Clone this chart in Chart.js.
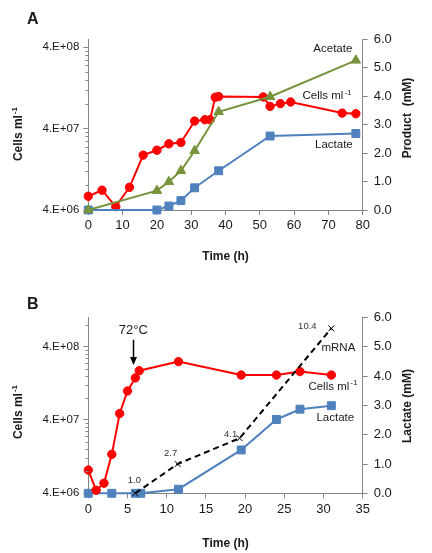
<!DOCTYPE html>
<html><head><meta charset="utf-8">
<script src="https://cdn.jsdelivr.net/npm/chart.js@4.4.1/dist/chart.umd.min.js"></script>
<style>
html,body{margin:0;padding:0;background:#fff;width:432px;height:553px;overflow:hidden;}
canvas{position:absolute;left:0;}
#cA{top:0;} #cB{top:276px;}
</style></head><body>
<canvas id="cA" width="432" height="276"></canvas>
<canvas id="cB" width="432" height="277"></canvas>
<script>
// ---------- Panel A data ----------
const aCellsTime = [0, 4, 8, 12, 16, 20, 23.5, 27, 31, 34, 35.5, 37, 38, 51, 53, 56, 59, 74, 78];
const aCells = [5.9e6, 7.0e6, 4.4e6, 7.6e6, 1.89e7, 2.17e7, 2.6e7, 2.7e7, 4.95e7, 5.15e7, 5.15e7, 9.7e7, 9.9e7, 9.8e7, 7.5e7, 8.1e7, 8.5e7, 6.2e7, 6.1e7];
const aAcetateTime = [0, 20, 23.5, 27, 31, 38, 53, 78];
const aAcetate = [0, 0.68, 0.99, 1.38, 2.08, 3.45, 3.98, 5.26];
const aLactateTime = [0, 20, 23.5, 27, 31, 38, 53, 78];
const aLactate = [0, 0, 0.14, 0.33, 0.78, 1.38, 2.6, 2.69];
// ---------- Panel B data ----------
const bCellsTime = [0, 1, 2, 3, 4, 5, 6, 6.5, 11.5, 19.5, 24, 27, 31];
const bCells = [8.3e6, 4.4e6, 5.5e6, 1.36e7, 4.9e7, 9.95e7, 1.5e8, 1.88e8, 2.5e8, 1.64e8, 1.64e8, 1.83e8, 1.64e8];
const bLactateTime = [0, 3, 6, 6.7, 11.5, 19.5, 24, 27, 31];
const bLactate = [0, 0, 0, 0, 0.14, 1.48, 2.52, 2.87, 2.99];
const bMrnaTime = [6, 11.4, 19.3, 31];
const bMrna = [0, 1.0, 1.88, 5.63];
const bMrnaLabels = ['1.0', '2.7', '4.1', '10.4'];
// ---------- Axis ticks ----------
const logTicks = [4e6, 4e7, 4e8];
const logTickLabels = ['4.E+06', '4.E+07', '4.E+08'];

const FONT = "'Liberation Sans', Arial, sans-serif";
const AXIS = '#868686';
const TXT = '#1a1a1a';
const RED = '#FF0000', GREEN = '#77933C', BLUE = '#4F81BD';
Chart.defaults.font.family = FONT;
Chart.defaults.color = TXT;

const pts = (xs, ys) => xs.map((x, i) => ({x: x, y: ys[i]}));

function drawSupText(ctx, x, y, main, sup, size, bold, rot) {
  ctx.save();
  ctx.translate(x, y);
  if (rot) ctx.rotate(rot);
  const w = bold ? 'bold ' : '';
  ctx.font = w + size + 'px ' + FONT;
  const w1 = ctx.measureText(main).width;
  const ss = Math.round(size * 0.66);
  ctx.font = w + ss + 'px ' + FONT;
  const w2 = ctx.measureText(sup).width;
  const total = w1 + 1 + w2;
  ctx.textBaseline = 'middle';
  ctx.textAlign = 'left';
  ctx.fillStyle = TXT;
  ctx.font = w + size + 'px ' + FONT;
  ctx.fillText(main, -total / 2, 0);
  ctx.font = w + ss + 'px ' + FONT;
  ctx.fillText(sup, -total / 2 + w1 + 1, -size * 0.33);
  ctx.restore();
}

function drawText(ctx, x, y, text, size, bold, rot) {
  ctx.save();
  ctx.translate(x, y);
  if (rot) ctx.rotate(rot);
  ctx.font = (bold ? 'bold ' : '') + size + 'px ' + FONT;
  ctx.fillStyle = TXT;
  ctx.textAlign = 'center';
  ctx.textBaseline = 'middle';
  ctx.fillText(text, 0, 0);
  ctx.restore();
}

const overlay = {
  id: 'overlay',
  afterDraw(chart) {
    const o = chart.options.plugins.overlay;
    const ctx = chart.ctx;
    const xs = chart.scales.x, yl = chart.scales.yL, yr = chart.scales.yR;
    ctx.save();
    // minor ticks on log axis
    ctx.strokeStyle = AXIS;
    ctx.lineWidth = 1;
    const ax = Math.round(yl.right) + 0.5;
    logTicks.forEach(d => {
      for (let k = 2; k <= 9; k++) {
        const v = d * k;
        if (v > yl.max) continue;
        const py = Math.round(yl.getPixelForValue(v)) + 0.5;
        ctx.beginPath();
        ctx.moveTo(ax - 3, py);
        ctx.lineTo(ax, py);
        ctx.stroke();
      }
    });
    ctx.restore();
    // panel letter
    drawText(ctx, o.letter.x, o.letter.y, o.letter.text, 16, true);
    // axis titles
    drawSupText(ctx, o.leftTitle.x, o.leftTitle.y, 'Cells ml', '-1', 12, true, -Math.PI / 2);
    drawText(ctx, o.rightTitle.x, o.rightTitle.y, o.rightTitle.text, 12, true, -Math.PI / 2);
    // series annotations
    o.notes.forEach(n => {
      const px = xs.getPixelForValue(n.t), py = yr.getPixelForValue(n.v);
      if (n.sup) drawSupText(ctx, px, py, n.text, n.sup, 11.5, false, 0);
      else drawText(ctx, px, py, n.text, n.size || 11.5, false, 0);
    });
    // arrow
    if (o.arrow) {
      const px = Math.round(xs.getPixelForValue(o.arrow.t)) + 0.5;
      const y1 = yr.getPixelForValue(o.arrow.v1), y2 = yr.getPixelForValue(o.arrow.v2);
      ctx.save();
      ctx.strokeStyle = '#000'; ctx.fillStyle = '#000'; ctx.lineWidth = 1.5;
      ctx.beginPath(); ctx.moveTo(px, y1); ctx.lineTo(px, y2 - 5); ctx.stroke();
      ctx.beginPath(); ctx.moveTo(px - 3.5, y2 - 8); ctx.lineTo(px + 3.5, y2 - 8); ctx.lineTo(px, y2); ctx.closePath(); ctx.fill();
      ctx.restore();
    }
    // mRNA value labels
    if (o.pointLabels) {
      const meta = chart.getDatasetMeta(o.pointLabels.dataset);
      meta.data.forEach((el, i) => {
        const off = o.pointLabels.offsets[i];
        ctx.save();
        ctx.font = '9.5px ' + FONT;
        ctx.fillStyle = '#333';
        ctx.textAlign = 'center';
        ctx.textBaseline = 'middle';
        ctx.fillText(o.pointLabels.labels[i], el.x + off[0], el.y + off[1]);
        ctx.restore();
      });
    }
  }
};

function makeScales(xmax, xstep, ymax, xHeight, xTitlePad) {
  return {
    x: {
      type: 'linear', min: 0, max: xmax,
      ticks: {stepSize: xstep, font: {size: 13}, padding: 3, color: TXT, maxRotation: 0},
      grid: {display: true, drawOnChartArea: false, tickLength: 5, color: AXIS},
      border: {display: true, color: AXIS, width: 1},
      title: {display: true, text: 'Time (h)', font: {size: 12, weight: 'bold'}, color: TXT, padding: {top: 0, bottom: xTitlePad}},
      afterFit: s => { s.height = xHeight; }
    },
    yL: {
      type: 'logarithmic', position: 'left', min: 4e6, max: ymax,
      afterBuildTicks: s => { s.ticks = logTicks.map(v => ({value: v})); },
      ticks: {
        font: {size: 11.5}, padding: 4, color: TXT,
        callback: v => { const i = logTicks.findIndex(t => Math.abs(t - v) / t < 1e-6); return i >= 0 ? logTickLabels[i] : ''; }
      },
      grid: {display: true, drawOnChartArea: false, tickLength: 5, color: AXIS},
      border: {display: true, color: AXIS, width: 1},
      afterFit: s => { s.width = 88.3; }
    },
    yR: {
      type: 'linear', position: 'right', min: 0, max: 6,
      ticks: {stepSize: 1, font: {size: 13}, padding: 6, color: TXT, callback: v => Number(v).toFixed(1)},
      grid: {display: true, drawOnChartArea: false, tickLength: 5, color: AXIS},
      border: {display: true, color: AXIS, width: 1},
      afterFit: s => { s.width = 69.3; }
    }
  };
}

const common = {
  responsive: false, animation: false, devicePixelRatio: 1,
  elements: {line: {tension: 0}},
};

new Chart(document.getElementById('cA'), {
  type: 'line',
  data: {
    datasets: [
      {data: pts(aAcetateTime, aAcetate), yAxisID: 'yR', borderColor: GREEN, backgroundColor: GREEN, borderWidth: 2,
       pointStyle: 'triangle', pointRadius: 5.5, pointBorderWidth: 1, clip: false},
      {data: pts(aLactateTime, aLactate), yAxisID: 'yR', borderColor: BLUE, backgroundColor: BLUE, borderWidth: 2,
       pointStyle: 'rect', pointRadius: 5.6, pointBorderWidth: 1, clip: false},
      {data: pts(aCellsTime, aCells), yAxisID: 'yL', borderColor: RED, backgroundColor: RED, borderWidth: 2,
       pointStyle: 'circle', pointRadius: 4.2, pointBorderWidth: 1, clip: false}
    ]
  },
  options: Object.assign({}, common, {
    layout: {padding: {top: 39.3, bottom: 0, left: 0, right: 0}},
    scales: makeScales(80, 10, 5e8, 66, 12),
    plugins: {
      legend: {display: false}, tooltip: {enabled: false},
      overlay: {
        letter: {text: 'A', x: 32.7, y: 20},
        leftTitle: {x: 19, y: 134},
        rightTitle: {x: 408, y: 118, text: 'Product  (mM)'},
        notes: [
          {t: 71.3, v: 5.65, text: 'Acetate'},
          {t: 69.6, v: 4.0, text: 'Cells ml', sup: '-1'},
          {t: 71.6, v: 2.28, text: 'Lactate'}
        ]
      }
    }
  }),
  plugins: [overlay]
});

new Chart(document.getElementById('cB'), {
  type: 'line',
  data: {
    datasets: [
      {data: pts(bMrnaTime, bMrna), yAxisID: 'yR', borderColor: '#000', backgroundColor: '#000', borderWidth: 2, borderDash: [6, 4],
       pointStyle: 'crossRot', pointRadius: 4.2, pointBorderWidth: 1, clip: false},
      {data: pts(bCellsTime, bCells), yAxisID: 'yL', borderColor: RED, backgroundColor: RED, borderWidth: 2,
       pointStyle: 'circle', pointRadius: 4.2, pointBorderWidth: 1, clip: false},
      {data: pts(bLactateTime, bLactate), yAxisID: 'yR', borderColor: BLUE, backgroundColor: BLUE, borderWidth: 2,
       pointStyle: 'rect', pointRadius: 5.6, pointBorderWidth: 1, clip: false}
    ]
  },
  options: Object.assign({}, common, {
    layout: {padding: {top: 41.5, bottom: 0, left: 0, right: 0}},
    scales: makeScales(35, 5, 1e9, 59.7, 2.5),
    plugins: {
      legend: {display: false}, tooltip: {enabled: false},
      overlay: {
        letter: {text: 'B', x: 32.7, y: 29},
        leftTitle: {x: 19, y: 136},
        rightTitle: {x: 408, y: 130, text: 'Lactate (mM)'},
        notes: [
          {t: 5.74, v: 5.57, text: '72°C', size: 13},
          {t: 31.9, v: 4.97, text: 'mRNA'},
          {t: 31.2, v: 3.64, text: 'Cells ml', sup: '-1'},
          {t: 31.5, v: 2.56, text: 'Lactate'}
        ],
        arrow: {t: 5.74, v1: 5.24, v2: 4.38},
        pointLabels: {dataset: 0, labels: bMrnaLabels, offsets: [[-1, -13], [-7, -11], [-9, -4], [-24, -2]]}
      }
    }
  }),
  plugins: [overlay]
});
</script>
</body></html>
